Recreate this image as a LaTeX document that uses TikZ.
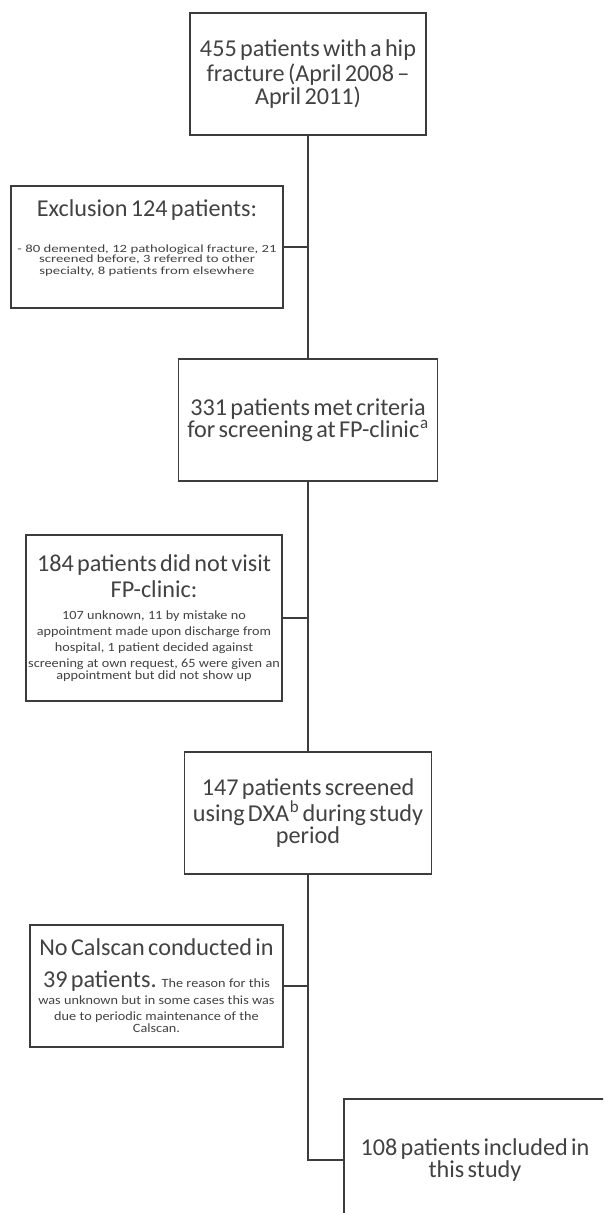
\documentclass[tikz,border=0pt]{standalone}
\usepackage{fontspec}
\setmainfont{Carlito}
\newfontfamily\stretchA[FakeStretch=1.34]{Carlito}
\newfontfamily\stretchB[FakeStretch=1.13]{Carlito}
\newcommand\bigf{\fontsize{24.2}{25.5}\selectfont\lineskiplimit=-100pt\relax}
\newcommand\smallf{\stretchB\fontsize{12.6}{16}\selectfont\lineskiplimit=-100pt\relax}
\newcommand\smallg{\stretchB\fontsize{12.6}{16.6}\selectfont\lineskiplimit=-100pt\relax}
\newcommand\tinyf{\stretchA\fontsize{11}{10.5}\selectfont\lineskiplimit=-100pt\relax}
\newcommand\supr[1]{\kern0.8pt\textsuperscript{#1}}
\definecolor{textc}{RGB}{66,66,66}
\definecolor{linec}{RGB}{60,60,60}
\begin{document}
\begin{tikzpicture}[x=1pt,y=-1pt,
  box/.style={draw=linec, line width=1.6pt, fill=white, rectangle, inner sep=0pt, align=center, text=textc},
  txt/.style={inner sep=0pt, align=center, text=textc},
  conn/.style={draw=linec, line width=1.6pt}]
\useasboundingbox (0,0) rectangle (603,1213);
\fill[white] (0,0) rectangle (603,1213);
\clip (0,0) rectangle (603,1213);
\node[box, minimum width=236pt, minimum height=122pt, text width=232pt] (b1) at (308,74)
  {\bigf 455 patients with a hip\\ fracture (April 2008 –\\ April 2011)};
\node[box, minimum width=272pt, minimum height=122pt] (b2) at (147,247) {};
\node[txt, text width=268pt] (t2) at (147,238)
  {\bigf Exclusion 124 patients:\\[25pt] \tinyf - 80 demented, 12 pathological fracture, 21\\ screened before, 3 referred to other\\ specialty, 8 patients from elsewhere};
\node[box, minimum width=259pt, minimum height=122pt, text width=255pt] (b3) at (308,420)
  {\bigf 331 patients met criteria\\ for screening at FP-clinic\supr{a}};
\node[box, minimum width=256pt, minimum height=166pt, text width=254pt] (b4) at (154,618)
  {\bigf 184 patients did not visit\\ FP-clinic:\\[6pt] \smallf 107 unknown, 11 by mistake no\\ appointment made upon discharge from\\ hospital, 1 patient decided against\\ screening at own request, 65 were given an\\ appointment but did not show up};
\node[box, minimum width=247pt, minimum height=122pt, text width=243pt] (b5) at (308,813)
  {\bigf 147 patients screened\\ using DXA\supr{b} during study\\ period};
\node[box, minimum width=253pt, minimum height=122pt, text width=251pt] (b6) at (156.5,986)
  {\bigf No Calscan conducted in\\[15pt] 39 patients. \smallg The reason for this\\ was unknown but in some cases this was\\ due to periodic maintenance of the\\ Calscan.};
\node[box, minimum width=262pt, minimum height=122pt, text width=258pt] (b7) at (475,1160)
  {\bigf 108 patients included in\\ this study};
\draw[conn] (b1.south) -- (b3.north);
\draw[conn] (b3.south) -- (b5.north);
\draw[conn] (b5.south) |- (b7.west);
\draw[conn] (b2.east) -- (b2.east -| b1.south);
\draw[conn] (b4.east) -- (b4.east -| b3.south);
\draw[conn] (b6.east) -- (b6.east -| b5.south);
\end{tikzpicture}
\end{document}
